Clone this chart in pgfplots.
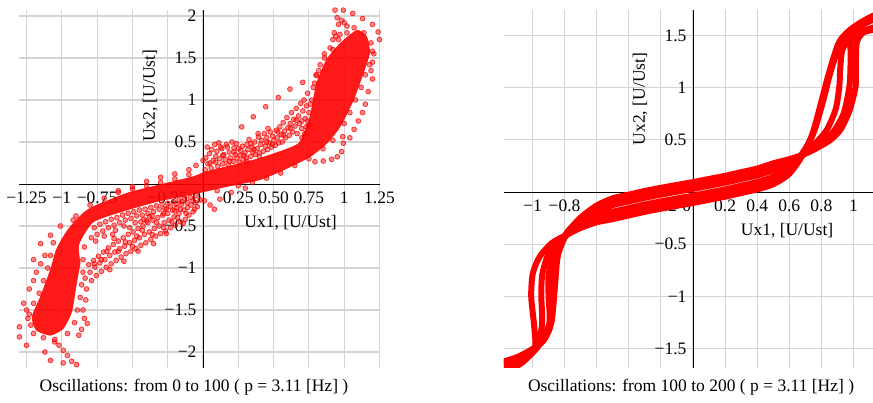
\documentclass[border=0pt]{standalone}
\usepackage{fontspec}
\setmainfont{Liberation Serif}
\usepackage{pgfplots}
\pgfplotsset{compat=1.18}
\newcommand\fsz{\fontsize{17.5bp}{21bp}\selectfont}
\pgfplotsset{
  layers/mylayers/.define layer set={axis background,axis grid,pre main,main,axis ticks,axis lines,axis tick labels,axis descriptions,axis foreground}{},
  myaxis/.style={
    set layers=mylayers,
    axis lines=middle,
    axis line style={-, black, line width=0.8bp},
    every inner x axis line/.append style={-},
    every inner y axis line/.append style={-},
    grid=major,
    major grid style={draw=black!17, line width=1.1bp},
    major tick length=0pt,
    hide obscured x ticks=false,
    every tick label/.append style={font=\fsz, text=black},
    xticklabel style={yshift=-4bp},
    yticklabel style={xshift=-3bp},
    clip mode=individual,
  },
  scat/.style={only marks, mark=*, mark size=2.4bp,
    mark options={draw=red, draw opacity=0.75, fill=red, fill opacity=0.45, line width=0.8bp}},
  loop/.style={red, line width=6bp, smooth, tension=0.45, line join=round, line cap=round},
}
\begin{document}
\begin{tikzpicture}
% ---------------- left ----------------
\begin{axis}[myaxis,
  x=141.2bp, y=84bp,
  xmin=-1.3, xmax=1.25, ymin=-2.19, ymax=2.07,
  anchor=origin, at={(203bp,-184bp)},
  clip=false,
  xtick={-1.25,-1,-0.75,-0.5,-0.25,0,0.25,0.5,0.75,1,1.25},
  xticklabels={−1.25,−1,−0.75,{},−0.25,\llap{0\hspace{2bp}},0.25,0.50,0.75,1,1.25},
  ytick={-2,-1.5,-1,-0.5,0.5,1,1.5,2},
  yticklabels={−2,−1.5,−1,−0.5,0.5,1,1.5,2},
]
% dense core of the cloud
\addplot[fill=red, draw=red, fill opacity=0.9, draw opacity=0.7, line width=0.8bp, smooth, tension=0.35] coordinates {
(-0.87,-0.94) (-0.88,-0.72) (-0.777,-0.45) (-0.54,-0.31) (-0.305,-0.2) (-0.069,-0.12)
(0.168,-0.03) (0.40,0.05) (0.569,0.167) (0.758,0.325) (0.876,0.485) (0.97,0.68)
(1.065,1.0) (1.135,1.32) (1.18,1.56) (1.16,1.75) (1.09,1.83) (0.97,1.67) (0.876,1.48)
(0.805,1.2) (0.758,0.80) (0.687,0.5) (0.6,0.42) (0.40,0.305) (0.168,0.206) (0.01,0.14)
(-0.069,0.087) (-0.305,-0.01) (-0.54,-0.11) (-0.777,-0.27) (-0.85,-0.35) (-0.94,-0.51)
(-0.99,-0.63) (-1.04,-0.79) (-1.08,-1.02) (-1.15,-1.34) (-1.21,-1.58) (-1.18,-1.74)
(-1.08,-1.80) (-0.99,-1.72) (-0.93,-1.52) (-0.9,-1.22) (-0.87,-0.94)
};
% scattered points
\addplot[scat] coordinates {
(0.015,0.17)(0.035,0.24)(0.02,0.31)(0.045,0.36)(0.03,0.44)
(0.058,0.19)(0.072,0.28)(0.061,0.41)(0.083,0.47)(0.09,0.33)
(0.105,0.21)(0.118,0.3)(0.098,0.39)(0.126,0.44)(0.112,0.49)
(0.139,0.24)(0.147,0.35)(0.158,0.29)(0.133,0.42)(0.165,0.47)
(0.178,0.23)(0.186,0.38)(0.194,0.31)(0.172,0.44)(0.205,0.5)
(0.214,0.27)(0.228,0.35)(0.219,0.43)(0.241,0.31)(0.236,0.48)
(0.255,0.26)(0.268,0.4)(0.262,0.34)(0.279,0.45)(0.284,0.29)
(0.297,0.37)(0.305,0.31)(0.311,0.47)(0.318,0.41)(0.326,0.53)
(0.338,0.33)(0.347,0.44)(0.352,0.38)(0.366,0.5)(0.371,0.35)
(0.384,0.42)(0.392,0.56)(0.399,0.37)(0.408,0.47)(0.415,0.52)
(0.427,0.39)(0.434,0.6)(0.441,0.45)(0.452,0.55)(0.458,0.41)
(0.469,0.49)(0.476,0.62)(0.484,0.44)(0.493,0.57)(0.501,0.52)
(0.512,0.46)(0.519,0.64)(0.527,0.55)(0.536,0.49)(0.544,0.68)
(0.553,0.59)(0.561,0.5)(0.568,0.73)(0.577,0.63)(0.585,0.55)
(0.594,0.79)(0.602,0.67)(0.611,0.58)(0.618,0.72)(0.627,0.85)
(0.635,0.62)(0.643,0.77)(0.652,0.69)(0.66,0.9)(0.667,0.6)
(0.676,0.81)(0.684,0.72)(0.692,0.96)(0.699,0.66)(0.707,0.87)
(0.716,1.0)(0.724,0.78)(0.733,0.93)(0.741,1.08)(0.748,0.7)
(0.05,0.25)(0.09,0.26)(0.14,0.34)(0.19,0.27)(0.25,0.42)(0.29,0.34)(0.34,0.48)(0.36,0.41)(0.4,0.33)(0.45,0.5)
(0.49,0.47)(0.53,0.62)(0.57,0.58)(0.62,0.66)(0.66,0.76)(0.7,0.75)(0.46,0.66)(0.39,0.6)(0.22,0.38)(0.31,0.27)
(-0.02,-0.19)(-0.04,-0.27)(-0.055,-0.22)(-0.07,-0.33)(-0.085,-0.25)
(-0.1,-0.37)(-0.11,-0.28)(-0.125,-0.42)(-0.135,-0.31)(-0.15,-0.24)
(-0.16,-0.45)(-0.17,-0.35)(-0.185,-0.28)(-0.195,-0.49)(-0.205,-0.39)
(-0.215,-0.31)(-0.23,-0.52)(-0.24,-0.43)(-0.25,-0.35)(-0.265,-0.56)
(-0.275,-0.46)(-0.285,-0.37)(-0.3,-0.59)(-0.31,-0.5)(-0.32,-0.4)
(-0.335,-0.62)(-0.345,-0.53)(-0.355,-0.43)(-0.37,-0.66)(-0.38,-0.57)
(-0.39,-0.46)(-0.405,-0.7)(-0.415,-0.6)(-0.425,-0.5)(-0.44,-0.73)
(-0.45,-0.64)(-0.46,-0.53)(-0.475,-0.77)(-0.485,-0.67)(-0.495,-0.57)
(-0.51,-0.8)(-0.52,-0.7)(-0.53,-0.6)(-0.545,-0.83)(-0.555,-0.74)
(-0.565,-0.64)(-0.58,-0.87)(-0.59,-0.77)(-0.6,-0.68)(-0.615,-0.91)
(-0.625,-0.81)(-0.635,-0.72)(-0.65,-0.95)(-0.66,-0.85)(-0.67,-0.76)
(-0.685,-0.99)(-0.695,-0.9)(-0.705,-0.81)(-0.72,-1.04)(-0.73,-0.94)
(-0.74,-0.86)(-0.755,-1.09)(-0.765,-0.99)(-0.775,-0.91)(-0.79,-1.15)
(-0.8,-1.05)(-0.81,-0.96)(-0.825,-1.25)(-0.83,-1.38)(-0.835,-1.12)
(-0.06,-0.3)(-0.12,-0.35)(-0.18,-0.4)(-0.22,-0.45)(-0.28,-0.52)(-0.33,-0.46)(-0.36,-0.6)(-0.43,-0.55)(-0.47,-0.62)(-0.5,-0.74)
(-0.55,-0.69)(-0.6,-0.8)(-0.63,-0.65)(-0.68,-0.8)(-0.72,-0.9)(-0.77,-0.95)(-0.44,-0.45)(-0.38,-0.39)(-0.26,-0.3)(-0.16,-0.3)
(-0.05,-0.14)(-0.09,-0.16)(-0.13,-0.17)(-0.17,-0.19)(-0.21,-0.21)(-0.25,-0.23)(-0.29,-0.24)(-0.33,-0.26)(-0.37,-0.28)(-0.41,-0.3)
(-0.45,-0.31)(-0.49,-0.33)(-0.53,-0.35)(-0.57,-0.37)(-0.61,-0.4)(-0.65,-0.42)(-0.69,-0.45)(-0.73,-0.48)(-0.77,-0.52)
(-0.07,-0.2)(-0.11,-0.22)(-0.15,-0.21)(-0.19,-0.24)(-0.23,-0.27)(-0.27,-0.29)(-0.31,-0.3)(-0.35,-0.33)(-0.39,-0.35)(-0.43,-0.37)
(-0.47,-0.38)(-0.51,-0.41)(-0.55,-0.43)(-0.59,-0.46)(-0.63,-0.49)(-0.67,-0.52)(-0.71,-0.56)(-0.75,-0.6)(-0.79,-0.64)
(-0.2,-0.32)(-0.28,-0.35)(-0.36,-0.38)(-0.42,-0.42)(-0.48,-0.46)(-0.56,-0.5)(-0.62,-0.55)(-0.7,-0.62)(-0.76,-0.68)(-0.4,-0.44)(-0.52,-0.52)(-0.64,-0.6)
(1.2,1.25)(1.19,1.35)(1.2,1.45)(1.21,1.55)(1.17,1.1)(1.15,0.95)(1.13,0.85)(1.1,0.75)(1.07,0.65)(1.04,0.55)
(0.935,2.07)(0.994,2.07)(1.06,2.03)(1.13,1.97)(1.2,1.9)(1.24,1.81)(1.25,1.72)
(0.95,1.98)(0.98,1.95)(1.0,1.92)(0.96,1.9)(1.02,1.88)(0.93,1.8)(0.92,1.72)(0.94,1.76)(0.97,1.78)
(0.274,0.68)(0.356,0.80)(0.444,0.92)(0.533,1.03)(0.616,1.13)(0.706,1.21)(0.805,1.29)
(0.793,0.265)(0.852,0.274)(0.911,0.294)(0.951,0.325)(0.982,0.385)(0.994,0.485)(0.989,0.563)
(0.72,0.6)(0.74,0.75)(0.76,0.95)(0.78,1.15)(0.8,1.3)(0.83,1.42)(0.86,1.55)(0.9,1.62)
(-1.27,-1.42)(-1.30,-1.7)(-1.30,-1.82)(-1.25,-1.92)(-1.12,-2.0)(-1.08,-2.1)(-0.99,-2.13)(-0.895,-2.15)
(-0.93,-2.11)(-0.96,-2.04)(-0.99,-1.98)(-1.02,-1.92)(-1.05,-1.88)
(-0.85,-1.5)(-0.82,-1.66)(-0.86,-1.73)(-0.84,-1.6)(-0.88,-1.8)
(-1.25,-1.5)(-1.24,-1.6)(-1.23,-1.25)(-1.2,-1.15)(-1.18,-1.05)(-1.15,-0.71)(-1.08,-0.61)(-1.01,-0.5)
(-0.92,-0.43)(-1.2,-0.9)(-1.15,-0.95)(-1.12,-0.85)
(-0.66,-1.02)(-0.56,-0.92)(-0.46,-0.8)(-0.35,-0.71)(-0.26,-0.59)(-0.14,-0.47)
(-0.4,0.03)(-0.3,0.08)(-0.2,0.12)(-0.1,0.17)(-0.05,0.22)(0,0.28)(-0.5,-0.03)(-0.6,-0.08)
(0.01,-0.2)(0.05,-0.25)(0.08,-0.3)(0.12,-0.18)(0.2,-0.1)(0.3,-0.05)
(1.0,0.72)(1.04,0.85)(1.08,1.0)(1.12,1.15)(1.15,1.3)(1.18,1.42)(1.2,1.58)(1.19,1.68)(1.14,1.8)(1.07,1.86)(1.02,1.8)
(0.7,0.55)(0.73,0.68)(0.75,0.85)(0.77,1.0)(0.79,1.2)(0.82,1.35)(0.86,1.5)(0.92,1.6)(0.96,1.72)
(0.1,-0.08)(0.25,-0.02)(0.35,0.02)(0.45,0.07)(0.55,0.13)(0.65,0.22)(0.75,0.3)(0.85,0.42)(0.92,0.52)
(-0.9,-0.38)(-0.8,-0.25)(-0.7,-0.17)(-0.6,-0.1)(-0.5,-0.06)(-0.4,-0.02)(-0.3,0.02)(-0.2,0.06)(-0.1,0.11)
(-1.06,-0.7)(-1.08,-0.85)(-1.1,-1.0)(-1.13,-1.15)(-1.16,-1.3)(-1.2,-1.42)(-1.23,-1.55)(-1.22,-1.68)(-1.2,-1.78)(-1.13,-1.83)(-1.05,-1.85)
(-0.96,-1.78)(-0.91,-1.65)(-0.89,-1.5)(-0.87,-1.35)(-0.86,-1.2)(-0.85,-1.05)(-0.85,-0.9)(-0.84,-0.75)
};
\node[font=\fsz, anchor=center] at (axis cs:0.62,-0.46) {Ux1, [U/Ust]};
\node[font=\fsz, anchor=center, rotate=90] at (axis cs:-0.375,1.05) {Ux2, [U/Ust]};
\node[font=\fsz, anchor=center] at (axis cs:-0.064,-2.417) {Oscillations: from 0 to 100 ( p = 3.11 [Hz] )};
\end{axis}
% ---------------- right ----------------
\begin{axis}[myaxis,
  x=160.5bp, y=104.3bp,
  xmin=-1.178, xmax=1.121, ymin=-1.687, ymax=1.745,
  anchor=origin, at={(693bp,-192bp)},
  xtick={-1,-0.8,-0.6,-0.4,-0.2,0,0.2,0.4,0.6,0.8,1},
  xticklabels={−1,−0.8,{},{},−0.2,\llap{0\hspace{2bp}},0.2,0.4,0.6,0.8,1},
  ytick={-1.5,-1,-0.5,0.5,1,1.5},
  yticklabels={−1.5,−1,−0.5,0.5,1,1.5},
]
\addplot[loop] coordinates {
(-1.26,-1.75) (-1.16,-1.70) (-1.06,-1.62) (-0.985,-1.50) (-0.99,-1.28) (-1.008,-1.0) (-0.998,-0.78)
(-0.955,-0.62) (-0.88,-0.49) (-0.787,-0.41) (-0.7,-0.345) (-0.6,-0.29) (-0.5,-0.26) (-0.4,-0.225)
(-0.3,-0.19) (-0.2,-0.16) (-0.1,-0.132) (0,-0.105) (0.1,-0.075) (0.2,-0.045) (0.3,-0.01) (0.4,0.025)
(0.5,0.075) (0.6,0.175) (0.69,0.37) (0.747,0.565) (0.807,0.88) (0.85,1.14) (0.912,1.43) (0.97,1.54)
(1.05,1.63) (1.15,1.71) (1.22,1.75)
(1.22,1.62) (1.14,1.58) (1.06,1.53) (1.02,1.43) (1.015,1.2) (1.013,1.01) (0.975,0.78) (0.92,0.6)
(0.857,0.5) (0.77,0.42) (0.69,0.36) (0.6,0.315) (0.5,0.275) (0.4,0.225) (0.3,0.19) (0.2,0.155)
(0.1,0.125) (0,0.095) (-0.1,0.068) (-0.2,0.04) (-0.3,0.01) (-0.4,-0.025) (-0.5,-0.06) (-0.6,-0.13)
(-0.7,-0.245) (-0.787,-0.40) (-0.846,-0.62) (-0.867,-0.94) (-0.887,-1.26) (-0.93,-1.42) (-1.0,-1.51)
(-1.1,-1.59) (-1.2,-1.64) (-1.27,-1.67)
};
\addplot[loop] coordinates {
(-1.25,-1.73) (-1.15,-1.68) (-1.05,-1.60) (-0.97,-1.48) (-0.94,-1.26) (-0.945,-1.0) (-0.94,-0.8)
(-0.91,-0.63) (-0.86,-0.5) (-0.79,-0.41) (-0.7,-0.3075) (-0.6,-0.233) (-0.5,-0.19) (-0.4,-0.155)
(-0.3,-0.12) (-0.2,-0.09) (-0.1,-0.062) (0,-0.035) (0.1,-0.005) (0.2,0.025) (0.3,0.06) (0.4,0.095)
(0.5,0.145) (0.6,0.225) (0.685,0.38) (0.752,0.57) (0.812,0.88) (0.855,1.14) (0.915,1.42) (0.975,1.53)
(1.05,1.6) (1.15,1.67) (1.22,1.71)
(1.22,1.6) (1.13,1.56) (1.04,1.52) (0.985,1.45) (0.982,1.25) (0.975,1.02) (0.94,0.76) (0.875,0.58)
(0.78,0.45) (0.69,0.365) (0.6,0.271) (0.5,0.21) (0.4,0.16) (0.3,0.125) (0.2,0.09) (0.1,0.06) (0,0.03)
(-0.1,0.003) (-0.2,-0.025) (-0.3,-0.055) (-0.4,-0.09) (-0.5,-0.125) (-0.6,-0.181) (-0.7,-0.275)
(-0.785,-0.39) (-0.842,-0.61) (-0.862,-0.94) (-0.882,-1.25) (-0.925,-1.41) (-0.995,-1.5) (-1.09,-1.58)
(-1.19,-1.63) (-1.26,-1.66)
};
\addplot[loop] coordinates {
(-1.25,-1.76) (-1.15,-1.71) (-1.06,-1.63) (-0.96,-1.47) (-0.895,-1.26) (-0.9,-1.0) (-0.9,-0.8)
(-0.875,-0.63) (-0.84,-0.5) (-0.785,-0.41) (-0.7,-0.3225) (-0.6,-0.257) (-0.5,-0.22) (-0.4,-0.185)
(-0.3,-0.15) (-0.2,-0.12) (-0.1,-0.092) (0,-0.065) (0.1,-0.035) (0.2,-0.005) (0.3,0.03) (0.4,0.065)
(0.5,0.115) (0.6,0.205) (0.69,0.375) (0.745,0.56) (0.802,0.88) (0.847,1.14) (0.905,1.42) (0.96,1.53)
(1.04,1.62) (1.14,1.7) (1.22,1.74)
(1.22,1.63) (1.13,1.58) (1.02,1.52) (0.935,1.38) (0.918,1.2) (0.912,1.02) (0.89,0.8) (0.835,0.6)
(0.765,0.47) (0.69,0.37) (0.6,0.29) (0.5,0.237) (0.4,0.187) (0.3,0.152) (0.2,0.117) (0.1,0.087)
(0,0.057) (-0.1,0.03) (-0.2,0.002) (-0.3,-0.028) (-0.4,-0.063) (-0.5,-0.098) (-0.6,-0.159) (-0.7,-0.26)
(-0.79,-0.40) (-0.85,-0.62) (-0.872,-0.94) (-0.892,-1.26) (-0.935,-1.42) (-1.005,-1.52) (-1.1,-1.6)
(-1.2,-1.65) (-1.27,-1.68)
};
\node[font=\fsz, anchor=center] at (axis cs:0.586,-0.374) {Ux1, [U/Ust]};
\node[font=\fsz, anchor=center, rotate=90] at (axis cs:-0.33,0.892) {Ux2, [U/Ust]};
\node[font=\fsz, anchor=center] at (axis cs:-0.012,-1.87) {Oscillations: from 100 to 200 ( p = 3.11 [Hz] )};
\end{axis}
\pgfresetboundingbox
\useasboundingbox (0,0) rectangle (873bp,-403bp);
\end{tikzpicture}
\end{document}
